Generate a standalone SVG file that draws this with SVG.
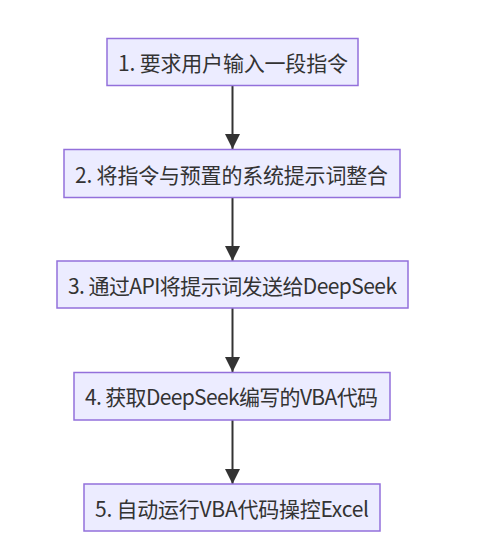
<svg xmlns="http://www.w3.org/2000/svg" width="499" height="560" viewBox="0 0 499 560">
<defs>
<style>
.node rect{fill:#ECECFF;stroke:#9370DB;stroke-width:1.5}
.node text{font-family:"Noto Sans CJK SC","Noto Sans",sans-serif;font-size:21px;fill:#333;text-anchor:middle;dominant-baseline:central}
.edge{stroke:#333;stroke-width:2;fill:none}
</style>
<marker id="arrow" viewBox="0 0 10 10" refX="10" refY="5" markerUnits="userSpaceOnUse" markerWidth="15" markerHeight="15" orient="auto">
<path d="M0,0 L10,5 L0,10 z" fill="#333"/>
</marker>
</defs>
<rect width="499" height="560" fill="#fff"/>
<g id="connectors">
<line class="edge" x1="232.5" y1="85" x2="232.5" y2="149" marker-end="url(#arrow)"/>
<line class="edge" x1="232.5" y1="198" x2="232.5" y2="261" marker-end="url(#arrow)"/>
<line class="edge" x1="232.5" y1="308" x2="232.5" y2="372" marker-end="url(#arrow)"/>
<line class="edge" x1="232.5" y1="420" x2="232.5" y2="484" marker-end="url(#arrow)"/>
</g>
<g id="node1" class="node">
<rect x="107" y="38.5" width="251" height="47"/>
<text x="233" y="62" textLength="230" lengthAdjust="spacing">1. 要求用户输入一段指令</text>
</g>
<g id="node2" class="node">
<rect x="64" y="149.5" width="336" height="48"/>
<text x="231.5" y="173.5" textLength="313" lengthAdjust="spacing">2. 将指令与预置的系统提示词整合</text>
</g>
<g id="node3" class="node">
<rect x="57" y="261" width="351" height="47"/>
<text x="232.5" y="284.5" textLength="329" lengthAdjust="spacing">3. 通过API将提示词发送给DeepSeek</text>
</g>
<g id="node4" class="node">
<rect x="74" y="372.5" width="316" height="47.5"/>
<text x="231.5" y="396" textLength="293" lengthAdjust="spacing">4. 获取DeepSeek编写的VBA代码</text>
</g>
<g id="node5" class="node">
<rect x="84" y="484" width="296" height="47"/>
<text x="232" y="507.5" textLength="274" lengthAdjust="spacing">5. 自动运行VBA代码操控Excel</text>
</g>
</svg>
